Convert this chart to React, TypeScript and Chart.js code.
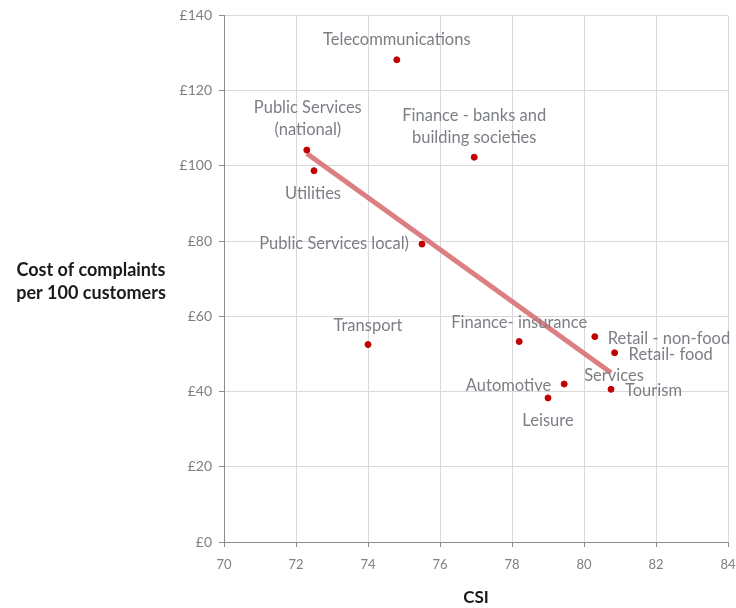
import React, { useEffect, useRef } from "react";
import { Chart, registerables } from "chart.js";

Chart.register(...registerables);

// Sectors, customer satisfaction index and cost of complaints per 100 customers
const sectors = [
  "Telecommunications",
  "Public Services\n(national)",
  "Utilities",
  "Finance - banks and\nbuilding societies",
  "Public Services local)",
  "Transport",
  "Finance- insurance",
  "Retail - non-food",
  "Retail- food",
  "Automotive",
  "Leisure",
  "Tourism",
  "Services",
];
const csi = [74.8, 72.3, 72.5, 76.95, 75.5, 74.0, 78.2, 80.3, 80.85, 79.45, 79.0, 80.75, 80.75];
const cost = [128.2, 104.2, 98.7, 102.3, 79.2, 52.5, 53.3, 54.6, 50.3, 42.0, 38.3, 40.6, 45.0];

// Linear trend through the sectors
const trendX = [72.3, 80.75];
const trendY = [103.3, 45.0];

const xTicks = [70, 72, 74, 76, 78, 80, 82, 84];
const yTicks = [0, 20, 40, 60, 80, 100, 120, 140];

// Label placement around each marker: [align, dx, dy]
const labelPlace: [CanvasTextAlign, number, number][] = [
  ["center", 0, -20],
  ["center", 1, -20],
  ["center", -1, 23],
  ["center", 0, -20],
  ["right", -13, 0],
  ["center", 0, -19],
  ["center", 0, -19],
  ["left", 13, 2],
  ["left", 14, 2],
  ["right", -13, 2],
  ["center", 0, 23],
  ["left", 14, 1],
  ["center", 3, 3],
];

const FAMILY = 'Lato, "Open Sans", sans-serif';
const LABEL_FONT = `16.5px ${FAMILY}`;

const pointLabels = {
  id: "pointLabels",
  afterDatasetsDraw(chart: any) {
    const { ctx } = chart;
    const meta = chart.getDatasetMeta(1);
    ctx.save();
    ctx.font = LABEL_FONT;
    ctx.fillStyle = "#7b7f85";
    ctx.textBaseline = "middle";
    meta.data.forEach((pt: any, i: number) => {
      const [align, dx, dy] = labelPlace[i];
      const lines = sectors[i].split("\n");
      ctx.textAlign = align;
      const lh = 22;
      lines.forEach((line, j) => {
        const off = dy < 0 ? -(lines.length - 1 - j) * lh : j * lh;
        ctx.fillText(line, pt.x + dx, pt.y + dy + off);
      });
    });
    ctx.restore();
  },
};

const axisTitles = {
  id: "axisTitles",
  afterDraw(chart: any) {
    const { ctx, chartArea } = chart;
    ctx.save();
    ctx.fillStyle = "#1a1a1a";
    ctx.font = `bold 18px ${FAMILY}`;
    ctx.textAlign = "center";
    ctx.textBaseline = "middle";
    ctx.fillText("Cost of complaints", 91, 270);
    ctx.fillText("per 100 customers", 91, 293);
    ctx.font = `bold 17px ${FAMILY}`;
    ctx.fillText("CSI", (chartArea.left + chartArea.right) / 2, 598);
    ctx.restore();
  },
};

export default function App() {
  const ref = useRef<HTMLCanvasElement | null>(null);

  useEffect(() => {
    if (!ref.current) return;
    const chart = new Chart(ref.current, {
      type: "scatter",
      data: {
        datasets: [
          {
            type: "line",
            data: trendX.map((x, i) => ({ x, y: trendY[i] })),
            borderColor: "rgba(214, 104, 108, 0.85)",
            borderWidth: 5,
            pointRadius: 0,
            order: 2,
          },
          {
            data: csi.map((x, i) => ({ x, y: cost[i] })),
            backgroundColor: "#c00000",
            borderColor: "#c00000",
            pointRadius: sectors.map((s) => (s === "Services" ? 0 : 3)),
            order: 1,
          },
        ],
      } as any,
      options: {
        responsive: false,
        animation: false,
        layout: { padding: { left: 160, right: 0, top: 15, bottom: 0 } },
        plugins: { legend: { display: false }, tooltip: { enabled: false } },
        scales: {
          x: {
            type: "linear",
            min: 70,
            max: 84,
            afterBuildTicks: (s: any) => {
              s.ticks = xTicks.map((v) => ({ value: v }));
            },
            afterFit: (s: any) => {
              s.height = 66;
              s.paddingRight = 8;
              s.paddingLeft = 0;
            },
            ticks: {
              color: "#7f7f7f",
              font: { size: 13, family: FAMILY },
              padding: 10,
              maxRotation: 0,
            },
            grid: { color: "#d9d9d9", tickColor: "#8c8c8c", tickLength: 5 },
            border: { color: "#8c8c8c" },
          },
          y: {
            type: "linear",
            min: 0,
            max: 140,
            afterBuildTicks: (s: any) => {
              s.ticks = yTicks.map((v) => ({ value: v }));
            },
            afterFit: (s: any) => {
              s.width = 64;
            },
            ticks: {
              color: "#7f7f7f",
              font: { size: 14, family: FAMILY },
              padding: 7,
              callback: (v: any) => "£" + v,
            },
            grid: { color: "#d9d9d9", tickColor: "#8c8c8c", tickLength: 5 },
            border: { color: "#8c8c8c" },
          },
        },
      } as any,
      plugins: [pointLabels, axisTitles],
    });
    return () => chart.destroy();
  }, []);

  return (
    <div style={{ position: "fixed", left: 0, top: 0, width: 736, height: 608, background: "#fff" }}>
      <canvas ref={ref} width={736} height={608} />
    </div>
  );
}
